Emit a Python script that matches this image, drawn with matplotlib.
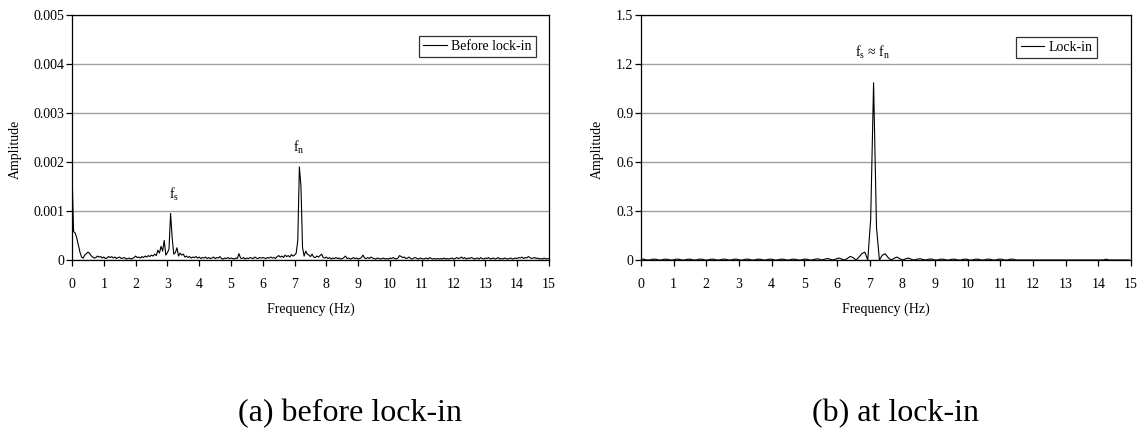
import numpy as np
import matplotlib
matplotlib.use("Agg")
import matplotlib.pyplot as plt

plt.rcParams['font.family'] = ['Liberation Serif', 'DejaVu Serif']
plt.rcParams['mathtext.default'] = 'regular'

# ---------------- data ----------------
# (a) before lock-in: spectrum sampled every 0.05 Hz, amplitude in units of 1e-5
freq_step_a = 0.05
amp_a_e5 = [
    180, 58, 55, 45, 30, 16, 6, 4, 10, 13,
    16, 14, 9, 6, 4, 5, 8, 6, 7, 4,
    6, 3, 4, 7, 5, 7, 4, 6, 3, 5,
    6, 3, 4, 5, 2, 3, 4, 2, 3, 5,
    8, 5, 6, 4, 7, 5, 8, 6, 9, 7,
    10, 8, 12, 9, 20, 14, 28, 18, 40, 10,
    15, 22, 95, 45, 12, 15, 25, 8, 14, 10,
    12, 6, 8, 5, 7, 4, 6, 5, 7, 4,
    6, 3, 5, 4, 6, 3, 5, 3, 4, 6,
    3, 5, 4, 7, 3, 2, 4, 3, 5, 3,
    4, 3, 2, 4, 3, 13, 4, 3, 5, 2,
    4, 3, 5, 4, 3, 6, 4, 3, 5, 4,
    5, 4, 3, 5, 4, 6, 4, 5, 3, 7,
    9, 6, 8, 5, 10, 7, 9, 6, 11, 8,
    10, 14, 40, 190, 150, 25, 8, 18, 12, 10,
    7, 12, 6, 5, 8, 6, 9, 12, 5, 4,
    6, 3, 5, 2, 4, 3, 5, 3, 4, 2,
    3, 5, 8, 3, 4, 2, 3, 5, 3, 4,
    2, 3, 5, 10, 4, 3, 5, 3, 6, 4,
    3, 2, 4, 3, 2, 3, 4, 2, 3, 2,
    4, 3, 5, 3, 2, 4, 9, 7, 5, 6,
    3, 4, 6, 3, 2, 4, 5, 3, 2, 4,
    3, 2, 3, 4, 2, 5, 3, 2, 3, 2,
    3, 2, 3, 2, 4, 2, 3, 2, 3, 4,
    2, 3, 5, 3, 4, 6, 3, 5, 2, 4,
    3, 5, 4, 2, 3, 4, 2, 5, 3, 2,
    4, 3, 5, 2, 3, 4, 2, 3, 5, 2,
    3, 2, 4, 3, 2, 3, 4, 2, 3, 4,
    3, 5, 4, 6, 3, 5, 4, 7, 5, 3,
    4, 5, 3, 4, 2, 3, 2, 4, 2, 3,
    2,
]

# (b) lock-in: spectrum sampled every 0.089 Hz, amplitude in units of 1e-3
freq_step_b = 0.089
amp_b_e3 = [
    5, 5, 0, 0, 5, 5, 0, 0, 5, 5, 0, 0, 5, 5, 0, 0,
    5, 5, 0, 0, 5, 5, 0, 0, 5, 5, 0, 0, 5, 5, 0, 0,
    5, 5, 0, 0, 5, 5, 0, 0, 5, 5, 0, 0, 5, 5, 0, 0,
    5, 5, 0, 0, 5, 5, 0, 0, 5, 5, 0, 0,
    6, 7, 0, 4, 9, 5, 0, 6, 12, 6, 0, 10, 22, 14, 0, 18,
    40, 48, 0, 250, 1085, 200, 0, 30, 38, 15, 0, 10, 18, 8, 0, 7,
    12, 4, 0, 5, 8, 3, 0, 5, 6, 0, 0,
    5, 5, 0, 0, 5, 5, 0, 0, 5, 5, 0, 0, 5, 5, 0, 0,
    5, 5, 0, 0, 5, 5, 0, 0, 5, 5, 0, 0,
    0, 0, 0, 0, 0, 0, 0, 0, 0, 0, 0, 0, 0, 0, 0, 0, 0, 0, 0, 0,
    0, 0, 0, 0, 0, 0, 0, 0, 0, 5, 0, 0, 0, 0, 0, 0, 0, 0,
]

xticks = list(range(0, 16))
yticks_a = [0, 0.001, 0.002, 0.003, 0.004, 0.005]
yticklabels_a = ["0", "0.001", "0.002", "0.003", "0.004", "0.005"]
yticks_b = [0, 0.3, 0.6, 0.9, 1.2, 1.5]
yticklabels_b = ["0", "0.3", "0.6", "0.9", "1.2", "1.5"]

legend_a = "Before lock-in"
legend_b = "Lock-in"
captions = ["(a) before lock-in", "(b) at lock-in"]

freq_a = np.arange(len(amp_a_e5)) * freq_step_a
amp_a = np.array(amp_a_e5) * 1e-5
freq_b = np.arange(len(amp_b_e3)) * freq_step_b
amp_b = np.array(amp_b_e3) * 1e-3

# ---------------- figure ----------------
W, H = 1138, 430
fig = plt.figure(figsize=(W / 100, H / 100), dpi=100)

def px_axes(x0, y0, x1, y1):
    return fig.add_axes([x0 / W, 1 - y1 / H, (x1 - x0) / W, (y1 - y0) / H])

ax1 = px_axes(72, 15, 549, 260)
ax2 = px_axes(641, 15, 1131, 260)

def style(ax, yticks, yticklabels, ylim, ylab_x):
    ax.set_xlim(0, 15)
    ax.set_ylim(*ylim)
    ax.set_xticks(xticks)
    ax.set_xticklabels([str(t) for t in xticks])
    ax.set_yticks(yticks)
    ax.set_yticklabels(yticklabels)
    ax.yaxis.grid(True, color='#a0a0a0', linewidth=1.0)
    ax.set_axisbelow(True)
    for s in ax.spines.values():
        s.set_color('black')
        s.set_linewidth(0.9)
    ax.tick_params(axis='x', direction='out', length=4, width=0.9, pad=9,
                   labelsize=10, colors='black')
    ax.tick_params(axis='y', direction='out', length=4, width=0.9, pad=1.5,
                   labelsize=10, colors='black')
    ax.set_xlabel("Frequency (Hz)", fontsize=10)
    ax.xaxis.set_label_coords(0.5, -0.175)
    ax.xaxis.label.set_va('top')
    ax.set_ylabel("Amplitude", fontsize=10)
    ax.yaxis.set_label_coords(ylab_x, 0.45)

ax1.plot(freq_a, amp_a, color='black', linewidth=0.8, label=legend_a)
style(ax1, yticks_a, yticklabels_a, (0, 0.005), -0.105)
ax1.legend(loc='upper right', bbox_to_anchor=(0.973, 0.914), fontsize=10,
           frameon=True, fancybox=False, edgecolor='black', borderpad=0.3,
           handlelength=1.7, handletextpad=0.35, borderaxespad=0)
ax1.legend_.get_frame().set_linewidth(0.9)
ax1.text(3.2, 0.00133, "f$_s$", ha='center', va='center', fontsize=10)
ax1.text(7.14, 0.0023, "f$_n$", ha='center', va='center', fontsize=10)

ax2.plot(freq_b, amp_b, color='black', linewidth=0.8, label=legend_b)
style(ax2, yticks_b, yticklabels_b, (0, 1.5), -0.076)
ax2.legend(loc='upper right', bbox_to_anchor=(0.931, 0.91), fontsize=10,
           frameon=True, fancybox=False, edgecolor='black', borderpad=0.3,
           handlelength=1.7, handletextpad=0.35, borderaxespad=0)
ax2.legend_.get_frame().set_linewidth(0.9)
ax2.text(7.1, 1.27, "f$_s$ \u2248 f$_n$", ha='center', va='center', fontsize=10)

fig.text(350 / W, 1 - 414 / H, captions[0], ha='center', va='center', fontsize=23)
fig.text(896 / W, 1 - 414 / H, captions[1], ha='center', va='center', fontsize=23)

fig.savefig("out.png", dpi=100, facecolor='white')
